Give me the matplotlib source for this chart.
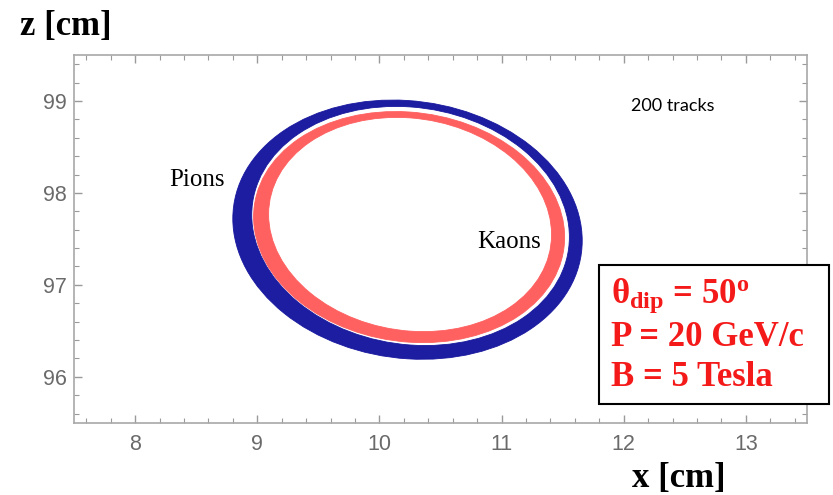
import numpy as np
import matplotlib
matplotlib.use("Agg")
import matplotlib.pyplot as plt
from matplotlib.path import Path
from matplotlib.patches import PathPatch, Rectangle
from matplotlib.transforms import Affine2D
from matplotlib.ticker import MultipleLocator

plt.rcParams['mathtext.fontset'] = 'custom'
plt.rcParams['mathtext.rm'] = 'Liberation Serif:bold'
plt.rcParams['mathtext.bf'] = 'Liberation Serif:bold'
plt.rcParams['mathtext.it'] = 'Liberation Serif:bold'

# Cherenkov ring bands: each band lies between an outer and an inner ellipse.
# Ellipse parameters: [x centre, z centre, x half-axis, z half-axis, x shear, z shear]  (cm)
particles = ["Pions", "Kaons"]
ring_colors = ["#15159e", "#ff5c5c"]
outer_ellipses = [
    [10.230, 97.600, 1.430, 1.405, 0.0, -0.12],
    [10.243, 97.628, 1.273, 1.252, 0.0, -0.11],
]
inner_ellipses = [
    [10.255, 97.640, 1.300, 1.295, 0.0, -0.12],
    [10.251, 97.656, 1.158, 1.160, 0.0, -0.11],
]
label_x = [8.51, 11.06]
label_z = [98.14, 97.47]

x_ticks = [8, 9, 10, 11, 12, 13]
z_ticks = [96, 97, 98, 99]
x_limits = (7.5, 13.5)
z_limits = (95.5, 99.5)

n_tracks = 200
dip_angle_deg = 50
momentum_gev = 20
field_tesla = 5


def ellipse_transform(p):
    cx, cz, a, b, sx, sz = p
    return Affine2D(np.array([[a, sx, cx], [sz, b, cz], [0.0, 0.0, 1.0]]))


fig = plt.figure(figsize=(8.33, 4.95), dpi=100)
ax = fig.add_axes([74 / 833, 1 - 422.7 / 495, (807 - 74) / 833, (422.7 - 55) / 495])

circle = Path.unit_circle()
for name, color, outer, inner in zip(particles, ring_colors, outer_ellipses, inner_ellipses):
    outer_path = circle.transformed(ellipse_transform(outer))
    # mirrored unit circle gives the inner boundary the opposite winding
    inner_path = circle.transformed(Affine2D().scale(1, -1) + ellipse_transform(inner))
    band = Path.make_compound_path(outer_path, inner_path)
    ax.add_patch(PathPatch(band, facecolor=color, edgecolor=color, linewidth=0.6,
                           alpha=0.97, zorder=2))

for name, x, z in zip(particles, label_x, label_z):
    ax.text(x, z, name, fontsize=18, family="Liberation Serif",
            ha="center", va="center", color="black", zorder=3)

ax.text(12.4, 98.95, f"{n_tracks} tracks", fontsize=13, family="Lato",
        ha="center", va="center", color="black")

ax.set_xlim(*x_limits)
ax.set_ylim(*z_limits)
ax.set_xticks(x_ticks)
ax.set_yticks(z_ticks)
ax.xaxis.set_minor_locator(MultipleLocator(0.2))
ax.yaxis.set_minor_locator(MultipleLocator(0.2))
ax.tick_params(which="both", direction="in", top=True, right=True,
               colors="#9a9a9a", labelcolor="#6a6a6a", labelsize=15.5)
ax.tick_params(which="major", length=6, width=1)
ax.tick_params(which="minor", length=3.5, width=0.8)
ax.tick_params(axis="x", pad=8)
ax.tick_params(axis="y", pad=5)
for lab in ax.get_xticklabels() + ax.get_yticklabels():
    lab.set_family("Liberation Sans")
for sp in ax.spines.values():
    sp.set_color("#a8a8a8")
    sp.set_linewidth(1.2)

fig.text(20 / 833, 1 - 26 / 495, "z [cm]", fontsize=25, fontweight="bold",
         family="Liberation Serif", ha="left", va="center")
fig.text(679 / 833, 1 - 478 / 495, "x [cm]", fontsize=25, fontweight="bold",
         family="Liberation Serif", ha="center", va="center")

# parameter box
fig.add_artist(Rectangle((599 / 833, 1 - 404 / 495), 230 / 833, 139 / 495,
                         transform=fig.transFigure, facecolor="white",
                         edgecolor="black", linewidth=1.5, zorder=5))
red = "#f41a1a"
box_lines = [
    r"θ$_{\mathrm{dip}}$ = " + f"{dip_angle_deg}" + r"$^{\mathrm{o}}$",
    f"P = {momentum_gev} GeV/c",
    f"B = {field_tesla} Tesla",
]
box_y = [1 - 296 / 495, 1 - 337 / 495, 1 - 377 / 495]
for txt, y in zip(box_lines, box_y):
    fig.text(611 / 833, y, txt, fontsize=25, fontweight="bold", color=red,
             family="Liberation Serif", ha="left", va="center", zorder=6)

fig.savefig("out.png", dpi=100)
